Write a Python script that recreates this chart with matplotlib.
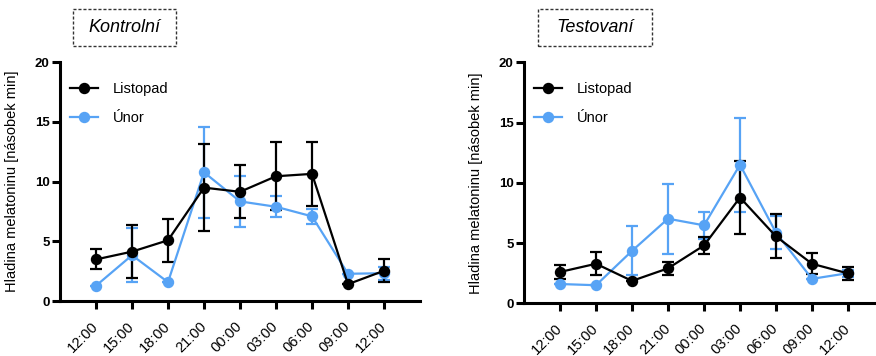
import matplotlib
matplotlib.use("Agg")
import matplotlib.pyplot as plt
from matplotlib.patches import Rectangle

plt.rcParams['font.family'] = ['Liberation Sans', 'DejaVu Sans']

# Sampling times (24 h profile)
times = ["12:00", "15:00", "18:00", "21:00", "00:00", "03:00", "06:00", "09:00", "12:00"]

# Kontrolní group
ctrl_nov = [3.5, 4.15, 5.1, 9.5, 9.15, 10.45, 10.65, 1.43, 2.55]
ctrl_nov_err = [0.83, 2.2, 1.8, 3.65, 2.2, 2.85, 2.7, 0.0, 0.95]
ctrl_feb = [1.3, 3.85, 1.6, 10.78, 8.35, 7.9, 7.1, 2.3, 2.35]
ctrl_feb_err = [0.0, 2.25, 0.0, 3.8, 2.1, 0.88, 0.6, 0.0, 0.55]

# Testovaní group
test_nov = [2.6, 3.28, 1.86, 2.9, 4.8, 8.78, 5.55, 3.28, 2.48]
test_nov_err = [0.6, 0.95, 0.0, 0.52, 0.73, 3.0, 1.83, 0.87, 0.53]
test_feb = [1.6, 1.5, 4.35, 7.02, 6.47, 11.5, 5.86, 2.03, 2.5]
test_feb_err = [0.0, 0.0, 2.04, 2.92, 1.14, 3.9, 1.39, 0.0, 0.3]

series_names = ["Listopad", "Únor"]
titles = ["Kontrolní", "Testovaní"]
ylabel = "Hladina melatoninu [násobek min]"

BLACK = "#000000"
BLUE = "#57A3F5"

W, H = 876, 356
fig = plt.figure(figsize=(W / 100, H / 100), dpi=100)


def px_axes(left, top, right, bottom):
    return fig.add_axes([left / W, 1 - bottom / H, (right - left) / W, (bottom - top) / H])


panels = [
    (px_axes(60, 62, 420, 301.3), ctrl_nov, ctrl_nov_err, ctrl_feb, ctrl_feb_err, (73, 9, 176, 46)),
    (px_axes(524, 62.3, 884, 303.3), test_nov, test_nov_err, test_feb, test_feb_err, (538, 9, 652, 46)),
]

x = list(range(1, len(times) + 1))

for i, (ax, nov, nov_e, feb, feb_e, box) in enumerate(panels):
    handles = []
    for vals, errs, col in [(feb, feb_e, BLUE), (nov, nov_e, BLACK)]:
        ax.errorbar(x, vals, yerr=errs, fmt='none', ecolor=col, elinewidth=1.6,
                    capsize=4, capthick=1.6, zorder=3, clip_on=False)
        ln, = ax.plot(x, vals, color=col, lw=1.6, marker='o', markersize=7.2,
                      zorder=4, clip_on=False)
        handles.append(ln)
    handles = handles[::-1]

    ax.set_xlim(0, 10)
    ax.set_ylim(0, 20)
    ax.set_yticks([0, 5, 10, 15, 20])
    ax.set_xticks(x)
    ax.set_xticklabels(times, rotation=45, ha='right', va='center',
                       rotation_mode='anchor', fontsize=10.5)
    for lbl in ax.get_yticklabels():
        lbl.set_fontweight('bold')
        lbl.set_fontsize(9.5)
    for s in ['top', 'right']:
        ax.spines[s].set_visible(False)
    for s in ['left', 'bottom']:
        ax.spines[s].set_linewidth(2.2)
    ax.tick_params(axis='both', width=2.2, length=5.5, color='black')
    ax.tick_params(axis='x', pad=11)
    ax.tick_params(axis='y', pad=2)

    ax.set_ylabel(ylabel, fontsize=10.5)
    ax.yaxis.set_label_coords(-0.115, 0.5)

    ax.legend(handles, series_names, loc='upper left', frameon=False,
              fontsize=10.5, handlelength=1.9, handletextpad=1.0,
              labelspacing=1.05, bbox_to_anchor=(0.0, 0.96),
              borderaxespad=0.3)

    # dashed title box
    l, t, r, b = box
    fig.patches.append(Rectangle((l / W, 1 - b / H), (r - l) / W, (b - t) / H,
                                 transform=fig.transFigure, fill=False,
                                 edgecolor='#333333', lw=1.0,
                                 linestyle=(0, (2.2, 1.4))))
    fig.text((l + r) / 2 / W, 1 - (t + b) / 2 / H, titles[i], fontsize=13,
             style='italic', ha='center', va='center')

fig.savefig("out.png", dpi=100)
